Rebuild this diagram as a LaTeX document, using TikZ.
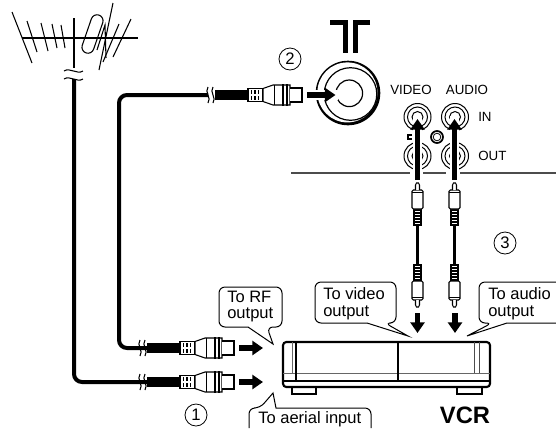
\documentclass[tikz,border=0pt]{standalone}
\usepackage{fontspec}
\setmainfont{Liberation Sans}
\usetikzlibrary{arrows.meta}
\tikzset{
  thinline/.style={line width=0.8pt},
  cable/.style={line width=3pt},
  heavyarrow/.style={-{Triangle[length=8pt,width=10.5pt]},line width=4pt},
  halo/.style={white,line width=7pt},
  callout/.style={line width=0.75pt,rounded corners=4.5pt},
  boxtext/.style={font=\fontsize{12.4}{12.5}\selectfont,align=left,anchor=west,inner sep=0pt},
  jacktext/.style={font=\fontsize{10}{12}\selectfont,inner sep=0pt},
  stepmark/.style={circle,draw,line width=0.6pt,minimum size=16.5pt,inner sep=0pt,font=\fontsize{12.5}{13}\selectfont},
  pics/coaxplug/.style={code={
    \fill (0,-5) rectangle (33,5);
    \draw[thinline,fill=white] (33,-6.5) rectangle (48,6.5);
    \foreach \x in {36.5,40,43.5}
      \draw[line width=1pt] (\x,-4.8) -- (\x,-1.4) (\x,1.4) -- (\x,4.8);
    \draw[thinline,fill=white] (48,-6.5) -- (58,-10) -- (75,-10) -- (75,10) -- (58,10) -- (48,6.5) -- cycle;
    \draw[thinline,fill=white] (75,-7) -- (87,-7) -- (87,7) -- (75,7);
    \draw[line width=0.5pt] (59,-10) -- (59,10);
    \draw[thinline] (68,-11) -- (68,11) (72,-11) -- (72,11);
    \draw[thinline] (-7,-8) .. controls (-11,-3) and (-3,3) .. (-7,8);
    \draw[thinline] (-2,-8) .. controls (-6,-3) and (2,3) .. (-2,8);
    \coordinate (-tail) at (-7,0);
    \coordinate (-root) at (0,0);
  }},
  pics/rcaplug/.style={code={
    \draw[thinline,fill=white] (-3.5,0) rectangle (3.5,-16);
    \foreach \y in {-3,-6,-9,-12,-14.5}
      \draw[line width=0.9pt] (-3,\y) -- (3,\y);
    \draw[thinline,fill=white,rounded corners=1pt] (-5.5,-16) rectangle (5.5,-35);
    \draw[line width=1.4pt] (-5.5,-32.5) -- (5.5,-32.5);
    \draw[thinline,fill=white] (-2,-35) -- (-2,-40) -- (-1,-42) -- (1,-42) -- (2,-40) -- (2,-35);
    \coordinate (-root) at (0,0);
  }},
  pics/avjack/.style={code={
    \draw[line width=0.75pt] (0,0) circle (13.5);
    \draw[line width=0.75pt] (0,0) circle (10);
    \draw[line width=0.75pt] (0,0) circle (5.5);
  }}
}
\begin{document}
\begin{tikzpicture}[x=0.75pt,y=-0.75pt]
  \useasboundingbox (0,0) rectangle (556,429);
  % aerial
  \draw[thinline] (74,18) -- (74,68);
  \draw[thinline] (22,38) -- (138,38);
  \draw[thinline] (12,12) -- (32,63);
  \draw[thinline] (27,21) -- (37,52);
  \draw[thinline] (41,23) -- (48,51);
  \draw[thinline] (52,24) -- (57,48);
  \draw[thinline] (61,25) -- (65,48);
  \draw[thinline] (113,3) -- (99,70);
  \draw[thinline] (131,19) -- (113,57);
  \draw[thinline] (119,24) -- (103,62);
  \draw[thinline] (97,50) -- (105,25) -- (106,58);
  \draw[thinline,rounded corners=4.5pt,rotate around={-19:(92.5,34)}] (86.5,14) rectangle (98.5,54);
  \foreach \y in {71,79}
    \draw[thinline] (64,\y) .. controls (70,\y-4) and (77,\y+4) .. (83,\y);
  \coordinate (mastfoot) at (74,79);
  \coordinate (rfbend) at (119,348);

  % coax plugs and cables
  \pic (topplug) at (215,95) {coaxplug};
  \pic (rfplug) at (147,348) {coaxplug};
  \pic (aerialplug) at (147,382) {coaxplug};
  \draw[cable,rounded corners=6pt] (topplug-tail) -| (rfbend) -- (rfplug-root);
  \draw[cable,rounded corners=6pt] (mastfoot) |- (aerialplug-root);

  % TV aerial socket
  \fill (348,93) circle (32.3);
  \fill[white] (347.4,92.4) circle (30);
  \draw[line width=0.9pt] (350.5,94) circle (26.3);
  \draw[line width=0.9pt] (349.3,93.3) circle (13.3);
  \draw[line width=3.75pt] (330,22) -- (345,22) -- (345,53);
  \draw[line width=3.75pt] (370,22) -- (355,22) -- (355,53);
  \coordinate (tvfrom) at (307,95);
  \coordinate (tvto) at (335.5,95);
  \draw[halo] (tvfrom) -- (338,95);
  \draw[heavyarrow] (tvfrom) -- (tvto);
  \node[stepmark] (two) at (290,59) {2};

  % AV jacks
  \pic at (417.5,117) {avjack};
  \pic at (455,117) {avjack};
  \pic at (417.5,156) {avjack};
  \pic at (455,156) {avjack};
  \draw[line width=1.3pt] (437,137) circle (6);
  \draw[line width=0.6pt] (437,137) circle (3.8);
  \draw[thinline] (412,135) -- (408,135) -- (408,139) -- (412,139);
  \draw[line width=0.9pt,black!70] (291,173) -- (410,173) (423,173) -- (446,173) (460,173) -- (556,173);
  \node[jacktext] (videolabel) at (411,90) {VIDEO};
  \node[jacktext] (audiolabel) at (467,90) {AUDIO};
  \node[jacktext,anchor=west] (inlabel) at (478,117) {IN};
  \node[jacktext,anchor=west] (outlabel) at (478,156) {OUT};

  % RCA leads
  \pic (videotop) at (417.5,225) {rcaplug};
  \pic (audiotop) at (454.5,225) {rcaplug};
  \pic[yscale=-1] (videolow) at (417.5,265) {rcaplug};
  \pic[yscale=-1] (audiolow) at (454.5,265) {rcaplug};
  \draw[line width=2pt] (videotop-root) -- (videolow-root);
  \draw[line width=2pt] (audiotop-root) -- (audiolow-root);
  \coordinate (videofrom) at (417.5,180);
  \coordinate (videoto) at (417.5,119);
  \coordinate (audiofrom) at (454.5,180);
  \coordinate (audioto) at (454.5,119);
  \draw[halo] (videofrom) -- (417.5,116);
  \draw[halo] (audiofrom) -- (454.5,116);
  \draw[heavyarrow] (videofrom) -- (videoto);
  \draw[heavyarrow] (audiofrom) -- (audioto);
  \node[stepmark] (three) at (505,243) {3};

  % VCR
  \draw[line width=1.3pt,fill=white] (292,387) rectangle (316,394);
  \draw[line width=1.3pt,fill=white] (457,387) rectangle (482,394);
  \draw[line width=1.6pt,rounded corners=2.5pt,fill=white] (283,342) rectangle (490,387);
  \draw[line width=0.5pt,black!60] (283,373) -- (490,373);
  \draw[thinline] (283,381) -- (490,381);
  \draw[line width=0.5pt,black!60] (292,342) -- (292,373);
  \draw[thinline] (296,342) -- (296,381);
  \draw[thinline] (398,342) -- (398,381);
  \draw[line width=0.7pt,black!70] (474,342) -- (474,373);
  \draw[line width=0.7pt,black!70] (479,342) -- (479,373);
  \node[font=\fontsize{17.8}{20}\selectfont\bfseries,inner sep=0pt] (vcr) at (465,415) {VCR};

  % arrows towards the VCR
  \coordinate (rfto) at (263,348);
  \coordinate (aerialto) at (263,382);
  \coordinate (videodown) at (417.5,333);
  \coordinate (audiodown) at (455,333);
  \draw[heavyarrow] (239,348) -- (rfto);
  \draw[heavyarrow] (239,382) -- (aerialto);
  \draw[heavyarrow] (417.5,313) -- (videodown);
  \draw[heavyarrow] (455,313) -- (audiodown);

  % callouts
  \draw[callout] (250,287) -- (282,287) -- (282,327) -- (267,327) [sharp corners] -- (273,344) -- (248,327) [rounded corners=4.5pt] -- (219,327) -- (219,287) -- cycle;
  \node[boxtext] (rftext) at (227,306.5) {To RF\\output};
  \draw[callout] (350,282) -- (396,282) -- (396,323) -- (385,323) [sharp corners] -- (408,336) -- (367,323) [rounded corners=4.5pt] -- (315,323) -- (315,282) -- cycle;
  \node[boxtext] (videotext) at (323,303.5) {To video\\output};
  \draw[callout] (556,282) -- (479,282) -- (479,323) -- (492,323) [sharp corners] -- (467,336) -- (507,323) [rounded corners=4.5pt] -- (556,323);
  \node[boxtext] (audiotext) at (488,303.5) {To audio\\output};
  \draw[callout] (249,428) -- (249,408) -- (260,408) [sharp corners] -- (273,393) -- (276,408) [rounded corners=4.5pt] -- (371,408) -- (371,428);
  \node[boxtext] (aerialtext) at (258,419) {To aerial input};
  \node[stepmark] (one) at (196,415) {1};
\end{tikzpicture}
\end{document}
